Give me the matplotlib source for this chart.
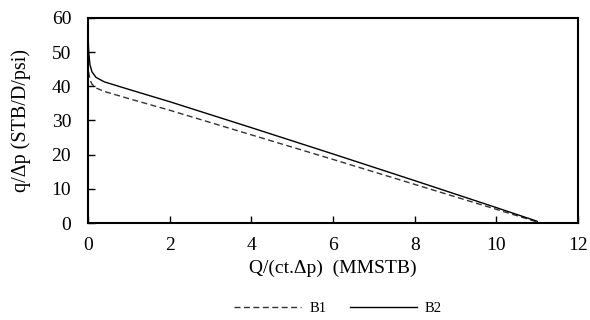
import matplotlib
matplotlib.use("Agg")
import matplotlib.pyplot as plt

plt.rcParams['font.family'] = ['Liberation Serif', 'DejaVu Serif']

b1_x = [0.0, 0.01, 0.02, 0.05, 0.1, 0.2, 0.4, 1.0, 2.0, 4.0, 6.0, 8.0, 10.0, 11.0]
b1_y = [47.0, 45.5, 44.0, 42.0, 40.6, 39.5, 38.5, 36.4, 33.0, 25.8, 18.6, 11.3, 4.0, 0.3]
b2_x = [0.0, 0.01, 0.02, 0.05, 0.1, 0.2, 0.4, 1.0, 2.0, 4.0, 6.0, 8.0, 10.0, 11.0]
b2_y = [58.0, 53.0, 50.0, 46.3, 44.2, 42.6, 41.3, 39.1, 35.5, 27.9, 20.2, 12.4, 4.5, 0.5]


def main():
    fig = plt.figure(figsize=(5.9, 3.2), dpi=100)
    ax = fig.add_axes([0.149, 0.303, 0.831, 0.641])
    ax.plot(b1_x, b1_y, color='#333333', linestyle=(0, (4.3, 2.5)), linewidth=1.0, label='B1')
    ax.plot(b2_x, b2_y, color='black', linestyle='-', linewidth=1.0, label='B2')

    ax.set_xlim(0, 12)
    ax.set_ylim(0, 60)
    ax.set_xticks(range(0, 13, 2))
    ax.set_yticks(range(0, 61, 10))
    ax.tick_params(direction='in', length=5, width=1, labelsize=14)
    ax.tick_params(axis='x', pad=10)
    ax.tick_params(axis='y', pad=12)
    for s in ax.spines.values():
        s.set_linewidth(1.5)

    ax.set_xlabel('Q/(ct.\u0394p)  (MMSTB)', fontsize=14, labelpad=4)
    ax.set_ylabel('q/\u0394p (STB/D/psi)', fontsize=14.5, labelpad=15)

    fig.legend(loc='lower center', bbox_to_anchor=(0.573, -0.025), ncol=2,
               frameon=False, fontsize=10.5, handlelength=4.6, columnspacing=1.6,
               handletextpad=0.55)
    fig.savefig('out.png', dpi=100)


if __name__ == "__main__":
    main()
